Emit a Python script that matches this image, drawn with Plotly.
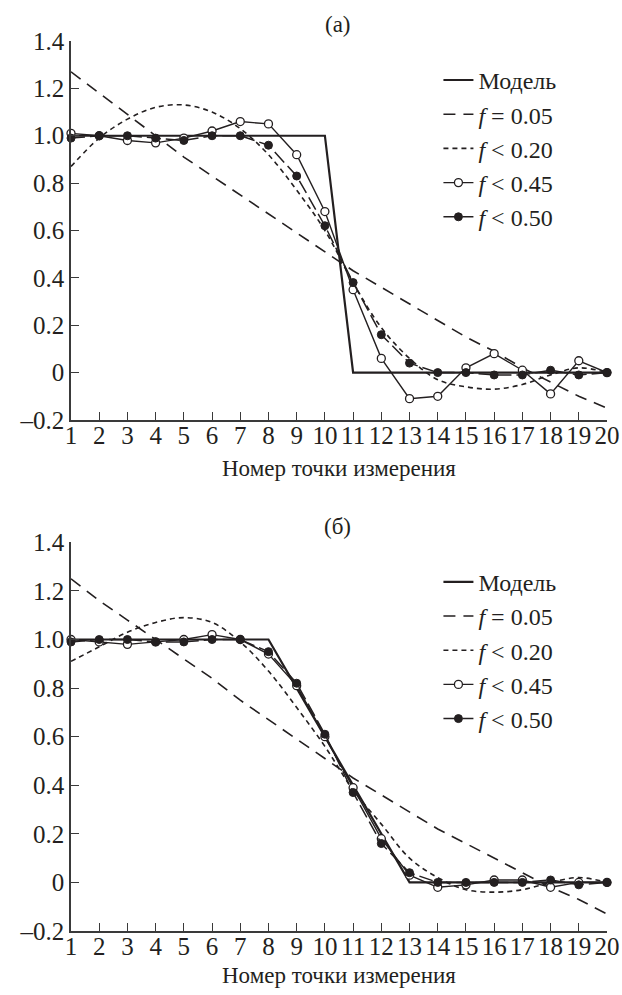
import plotly.graph_objects as go

# Measurement point numbers
points = list(range(1, 21))

# Panel (а): step model and filtered reconstructions
model_a = [1.0] * 10 + [0.0] * 10
f005_a = [1.27, 1.18, 1.09, 1.00, 0.91, 0.83, 0.75, 0.67, 0.59, 0.51,
          0.43, 0.36, 0.29, 0.22, 0.15, 0.09, 0.02, -0.04, -0.10, -0.15]
f020_a = [0.87, 0.99, 1.07, 1.12, 1.13, 1.10, 1.03, 0.92, 0.77, 0.60,
          0.38, 0.19, 0.06, -0.03, -0.06, -0.07, -0.05, -0.01, 0.02, 0.00]
f045_a = [1.01, 1.00, 0.98, 0.97, 0.99, 1.02, 1.06, 1.05, 0.92, 0.68,
          0.35, 0.06, -0.11, -0.10, 0.02, 0.08, 0.01, -0.09, 0.05, 0.00]
f050_a = [0.99, 1.00, 1.00, 0.99, 0.98, 1.00, 1.00, 0.96, 0.83, 0.62,
          0.38, 0.16, 0.04, 0.00, 0.00, -0.01, -0.01, 0.01, -0.01, 0.00]

# Panel (б): ramp model and filtered reconstructions
model_b = [1.0] * 8 + [0.8, 0.6, 0.4, 0.2, 0.0] + [0.0] * 7
f005_b = [1.25, 1.16, 1.08, 1.00, 0.92, 0.84, 0.75, 0.67, 0.59, 0.51,
          0.43, 0.36, 0.29, 0.22, 0.16, 0.10, 0.04, -0.02, -0.07, -0.13]
f020_b = [0.91, 0.97, 1.03, 1.07, 1.09, 1.07, 0.99, 0.87, 0.72, 0.56,
          0.38, 0.24, 0.10, 0.02, -0.03, -0.04, -0.03, 0.00, 0.02, 0.00]
f045_b = [1.00, 0.99, 0.98, 0.99, 1.00, 1.02, 1.00, 0.94, 0.81, 0.60,
          0.39, 0.18, 0.03, -0.02, -0.01, 0.01, 0.01, -0.02, 0.00, 0.00]
f050_b = [0.99, 1.00, 1.00, 0.99, 0.99, 1.00, 1.00, 0.95, 0.82, 0.61,
          0.37, 0.16, 0.04, 0.00, 0.00, 0.00, 0.00, 0.01, -0.01, 0.00]

legend_names = ["Модель", "<i>f</i> = 0.05", "<i>f</i> &lt; 0.20",
                "<i>f</i> &lt; 0.45", "<i>f</i> &lt; 0.50"]
y_tickvals = [1.4, 1.2, 1.0, 0.8, 0.6, 0.4, 0.2, 0.0, -0.2]
y_ticktext = ["1.4", "1.2", "1.0", "0.8", "0.6", "0.4", "0.2", "0", "\u20130.2"]
panel_labels = ["(а)", "(б)"]
x_title = "Номер точки измерения"

INK = "#231f20"
AXIS = "#3a3a3a"
FONT = "Liberation Serif"
TICK_FS = 25
LEG_FS = 24
TXT_FS = 23

fig = go.Figure()


def add_panel(xa, ya, legend, model, f005, f020, f045, f050):
    common = dict(x=points, xaxis=xa, yaxis=ya, legend=legend, cliponaxis=False)
    fig.add_trace(go.Scatter(y=model, name=legend_names[0], mode="lines",
                             line=dict(color=INK, width=2.2), **common))
    fig.add_trace(go.Scatter(y=f005, name=legend_names[1], mode="lines",
                             line=dict(color=INK, width=1.6, dash="12px,8px"),
                             **common))
    fig.add_trace(go.Scatter(y=f020, name=legend_names[2], mode="lines",
                             line=dict(color=INK, width=1.6, dash="5px,4px",
                                       shape="spline", smoothing=1.0),
                             **common))
    fig.add_trace(go.Scatter(y=f045, name=legend_names[3], mode="lines+markers",
                             line=dict(color=INK, width=1.4),
                             marker=dict(symbol="circle", size=8, color="white",
                                         line=dict(color=INK, width=1.3)),
                             **common))
    fig.add_trace(go.Scatter(y=f050, name=legend_names[4], mode="lines+markers",
                             line=dict(color=INK, width=1.5, dash="14px,5px"),
                             marker=dict(symbol="circle", size=8, color=INK,
                                         line=dict(color=INK, width=1)),
                             **common))


add_panel("x", "y", "legend", model_a, f005_a, f020_a, f045_a, f050_a)
add_panel("x2", "y2", "legend2", model_b, f005_b, f020_b, f045_b, f050_b)

xaxis_style = dict(range=[1, 20], tickvals=points, ticktext=[str(p) for p in points],
                   showline=True, linecolor=AXIS, linewidth=1.5,
                   ticks="inside", ticklen=8, tickwidth=1.3, tickcolor=AXIS,
                   ticklabelstandoff=-8,
                   showgrid=False, zeroline=False,
                   tickfont=dict(family=FONT, size=TICK_FS, color=INK))
yaxis_style = dict(range=[-0.2, 1.4], tickvals=y_tickvals, ticktext=y_ticktext,
                   showline=True, linecolor=AXIS, linewidth=1.5,
                   ticks="inside", ticklen=8, tickwidth=1.3, tickcolor=AXIS,
                   showgrid=False, zeroline=False,
                   tickfont=dict(family=FONT, size=TICK_FS, color=INK))

legend_style = dict(font=dict(family=FONT, size=LEG_FS, color=INK),
                    bgcolor="rgba(0,0,0,0)", borderwidth=0,
                    xanchor="left", yanchor="top", itemwidth=30,
                    tracegroupgap=0)


def label(text, x, y):
    return dict(text=text, x=x, y=y, xref="paper", yref="paper",
                xanchor="center", yanchor="middle", showarrow=False,
                font=dict(family=FONT, size=TXT_FS, color=INK))


fig.update_layout(
    width=622, height=995,
    margin=dict(l=71, r=15, t=41, b=64, autoexpand=False),
    paper_bgcolor="white", plot_bgcolor="white",
    font=dict(family=FONT, size=TXT_FS, color=INK),
    xaxis=dict(domain=[0, 1], anchor="y", **xaxis_style),
    yaxis=dict(domain=[0.5742, 1], anchor="x", **yaxis_style),
    xaxis2=dict(domain=[0, 1], anchor="y2", **xaxis_style),
    yaxis2=dict(domain=[0, 0.4367], anchor="x2", **yaxis_style),
    legend=dict(x=0.6855, y=0.981, **legend_style),
    legend2=dict(x=0.6855, y=0.4172, **legend_style),
    annotations=[
        label(panel_labels[0], 0.498, 1.019),
        label(panel_labels[1], 0.498, 0.455),
        label(x_title, 0.5, 0.5202),
        label(x_title, 0.5, -0.0505),
    ],
)

fig.write_html("out.html")
